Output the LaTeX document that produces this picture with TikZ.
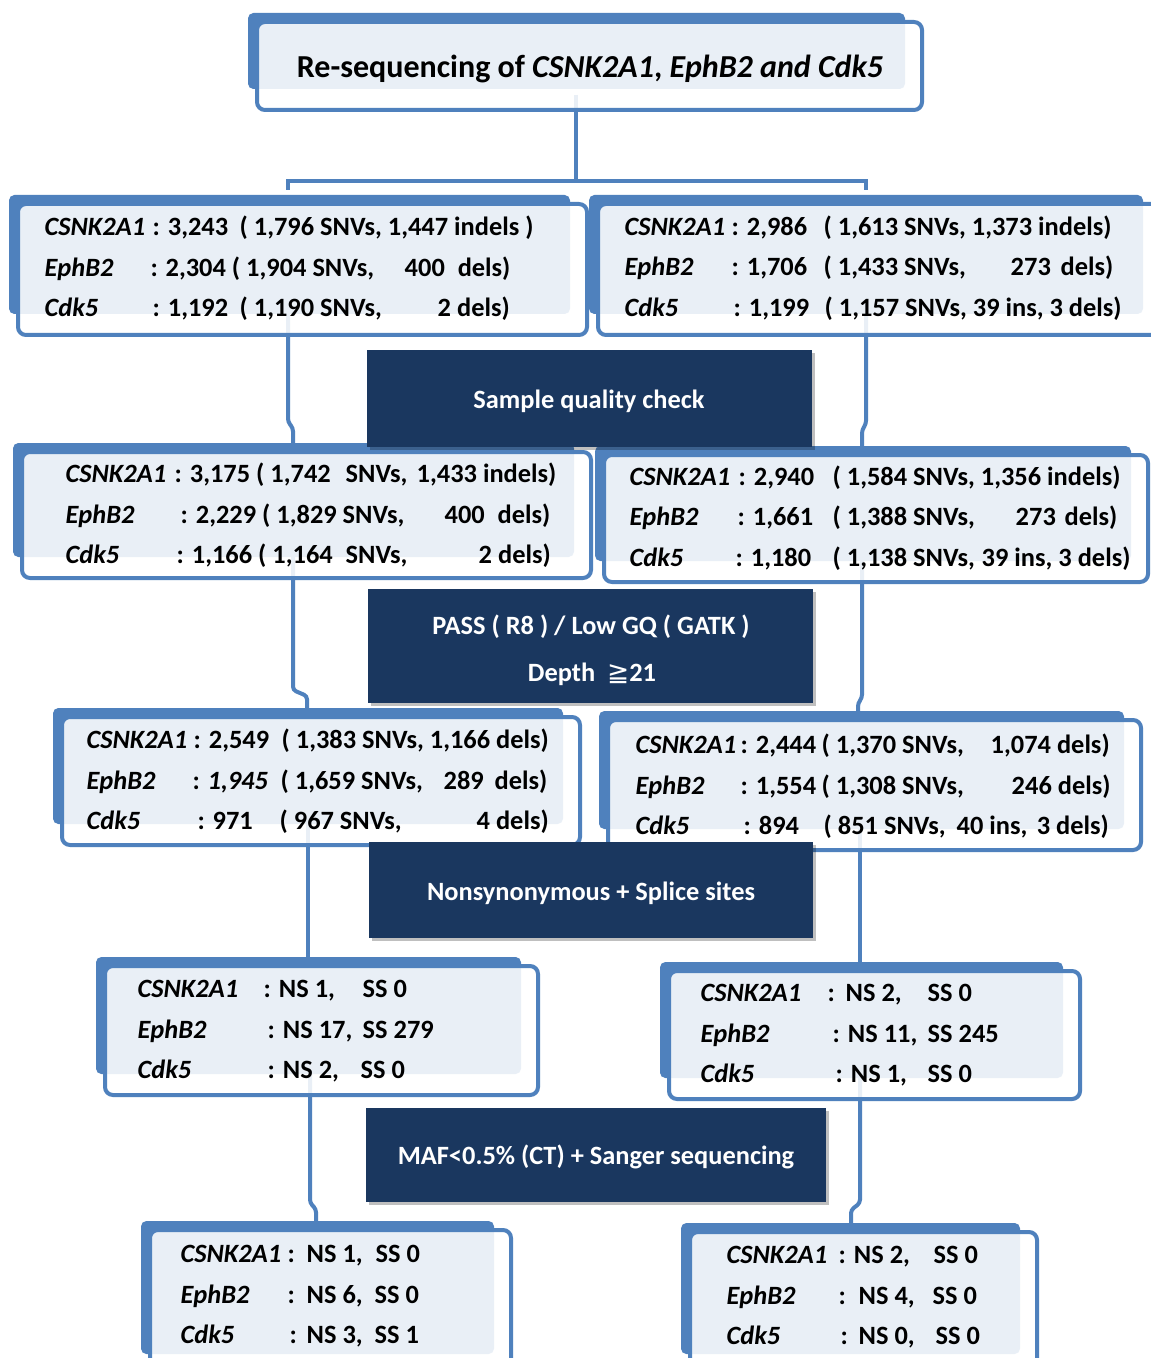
\documentclass[tikz,border=0pt]{standalone}
\usepackage{fontspec}
\setmainfont{Carlito}
\newfontfamily\symfnt{DejaVu Sans}
\usetikzlibrary{shadows}
\definecolor{blueA}{HTML}{4F81BD}
\definecolor{navy}{HTML}{1A375F}
\newdimen\pxu \pxu=0.75pt
\newcommand{\sg}[2]{\rlap{\hspace*{#1\pxu}#2}}
\newcommand{\gi}[1]{\textit{#1}}
\tikzset{
  backbox/.style={fill=blueA, rounded corners=4pt, inner sep=0pt, outer sep=0pt},
  frontbox/.style={draw=blueA, line width=3pt, fill=white, fill opacity=0.88, rounded corners=6pt, inner sep=0pt, outer sep=0pt},
  darkbox/.style={fill=navy, inner sep=0pt, outer sep=0pt,
    drop shadow={shadow xshift=2pt, shadow yshift=-2.5pt, opacity=0.25, fill=black}},
  darktxt/.style={text=white, inner sep=0pt, outer sep=0pt, text height=12.7pt, text depth=0pt,
    font=\fontsize{19.8}{23}\selectfont\bfseries},
  txt/.style={anchor=base west, inner sep=0pt, outer sep=0pt, font=\fontsize{19.8}{23}\selectfont\bfseries},
  conn/.style={draw=blueA, line width=3pt, rounded corners=2.5pt},
}
\newcommand{\databox}[5]{%
  \node[backbox, anchor=north west, minimum width={(#4-#2-8)*0.75pt}, minimum height={(#5-#3-12)*0.75pt}] (#1b) at ({#2-9},{#3-9}) {};
  \node[frontbox, anchor=north west, minimum width={(#4-#2)*0.75pt}, minimum height={(#5-#3)*0.75pt}] (#1) at (#2,#3) {};
}
\begin{document}
\begin{tikzpicture}[x=0.75pt, y=-0.75pt]
\useasboundingbox (0,0) rectangle (1151,1358);
\fill[white] (0,0) rectangle (1151,1358);

% connector coordinates
\coordinate (c0a) at (576,95);
\coordinate (c0b) at (576,181);
\coordinate (c0l) at (288,181);
\coordinate (c0r) at (866,181);
\coordinate (c0ll) at (288,190);
\coordinate (c0rr) at (866,190);
\coordinate (c1a) at (288,314);
\coordinate (c1b) at (288,422);
\coordinate (c1c) at (293,428);
\coordinate (c1d) at (293,446);
\coordinate (c1e) at (866,314);
\coordinate (c1f) at (866,424);
\coordinate (c1g) at (862,430);
\coordinate (c1h) at (862,448);
\coordinate (c2a) at (293,557);
\coordinate (c2b) at (293,690);
\coordinate (c2c) at (307,696);
\coordinate (c2d) at (307,712);
\coordinate (c2e) at (862,561);
\coordinate (c2f) at (862,698);
\coordinate (c2g) at (858,703);
\coordinate (c2h) at (858,714);
\coordinate (c3a) at (308,824);
\coordinate (c3b) at (308,960);
\coordinate (c3c) at (860,829);
\coordinate (c3d) at (860,964);
\coordinate (c4a) at (310,1074);
\coordinate (c4b) at (310,1203);
\coordinate (c4c) at (316,1209);
\coordinate (c4d) at (316,1224);
\coordinate (c4e) at (860,1078);
\coordinate (c4f) at (860,1203);
\coordinate (c4g) at (851,1210);
\coordinate (c4h) at (851,1226);

\draw[conn, rounded corners=0pt] (c0a) -- (c0b);
\draw[conn, rounded corners=0pt] (c0ll) -- (c0l) -- (c0r) -- (c0rr);
\draw[conn] (c1a) -- (c1b) -- (c1c) -- (c1d);
\draw[conn] (c1e) -- (c1f) -- (c1g) -- (c1h);
\draw[conn] (c2a) -- (c2b) -- (c2c) -- (c2d);
\draw[conn] (c2e) -- (c2f) -- (c2g) -- (c2h);
\draw[conn] (c3a) -- (c3b);
\draw[conn] (c3c) -- (c3d);
\draw[conn] (c4a) -- (c4b) -- (c4c) -- (c4d);
\draw[conn] (c4e) -- (c4f) -- (c4g) -- (c4h);

% boxes
\databox{t0}{257}{22}{922}{110}
\databox{a1}{18}{204}{587}{335}
\databox{b1}{598}{204}{1160}{335}
\databox{a2}{22}{452}{591}{578}
\databox{b2}{604}{455}{1148}{582}
\databox{a3}{62}{717}{580}{845}
\databox{b3}{608}{720}{1141}{850}
\databox{a4}{105}{966}{538}{1095}
\databox{b4}{669}{971}{1080}{1099}
\databox{a5}{150}{1230}{511}{1375}
\databox{b5}{690}{1232}{1037}{1375}

% title
\node[inner sep=0pt, font=\fontsize{24}{28}\selectfont\bfseries] (title) at (590,69)
  {Re-sequencing of \gi{CSNK2A1}, \gi{EphB2 and Cdk5}};

% dark boxes
\node[darkbox, minimum width=333.75pt, minimum height=72.75pt] (d1) at (589.5,398.5) {};
\node[darktxt] (d1t) at (589,400) {Sample quality check};
\node[darkbox, minimum width=333.75pt, minimum height=85.5pt] (d2) at (590.5,646) {};
\node[darktxt] (d2t1) at (591,626) {PASS ( R8 ) / Low GQ ( GATK )};
\node[darktxt] (d2t2) at (592,673) {Depth \ {\symfnt\mdseries ≧}21};
\node[darkbox, minimum width=333pt, minimum height=72pt] (d3) at (591,890) {};
\node[darktxt] (d3t) at (591,892) {Nonsynonymous + Splice sites};
\node[darkbox, minimum width=345pt, minimum height=70.5pt] (d4) at (596,1155) {};
\node[darktxt] (d4t) at (596,1156) {MAF<0.5\% (CT) + Sanger sequencing};

% box a1
\node[txt] (a1l1) at (0,236) {\sg{44}{\gi{CSNK2A1}}\sg{152}{: 3,243}\sg{239}{( 1,796 SNVs, 1,447 indels )}};
\node[txt] (a1l2) at (0,277) {\sg{44}{\gi{EphB2}}\sg{150}{:}\sg{165}{2,304 ( 1,904 SNVs,}\sg{404}{400}\sg{457}{dels)}};
\node[txt] (a1l3) at (0,317) {\sg{44}{\gi{Cdk5}}\sg{152}{: 1,192}\sg{239}{( 1,190 SNVs,}\sg{437}{2 dels)}};
% box b1
\node[txt] (b1l1) at (0,236) {\sg{624}{\gi{CSNK2A1}}\sg{731}{: 2,986}\sg{823}{( 1,613 SNVs, 1,373 indels)}};
\node[txt] (b1l2) at (0,276) {\sg{624}{\gi{EphB2}}\sg{731}{: 1,706}\sg{823}{( 1,433 SNVs,}\sg{1010}{273}\sg{1060}{dels)}};
\node[txt] (b1l3) at (0,317) {\sg{624}{\gi{Cdk5}}\sg{733}{: 1,199}\sg{824}{( 1,157 SNVs, 39 ins, 3 dels)}};
% box a2
\node[txt] (a2l1) at (0,482) {\sg{65}{\gi{CSNK2A1}}\sg{174}{: 3,175 ( 1,742}\sg{345}{SNVs,}\sg{416}{1,433 indels)}};
\node[txt] (a2l2) at (0,523) {\sg{65}{\gi{EphB2}}\sg{180}{: 2,229 ( 1,829 SNVs,}\sg{444}{400}\sg{497}{dels)}};
\node[txt] (a2l3) at (0,563) {\sg{65}{\gi{Cdk5}}\sg{176}{: 1,166 ( 1,164}\sg{345}{SNVs,}\sg{478}{2 dels)}};
% box b2
\node[txt] (b2l1) at (0,485) {\sg{629}{\gi{CSNK2A1}}\sg{738}{: 2,940}\sg{832}{( 1,584 SNVs, 1,356 indels)}};
\node[txt] (b2l2) at (0,525) {\sg{629}{\gi{EphB2}}\sg{737}{: 1,661}\sg{832}{( 1,388 SNVs,}\sg{1015}{273}\sg{1064}{dels)}};
\node[txt] (b2l3) at (0,566) {\sg{629}{\gi{Cdk5}}\sg{735}{: 1,180}\sg{832}{( 1,138 SNVs,}\sg{981}{39 ins, 3 dels)}};
% box a3
\node[txt] (a3l1) at (0,748) {\sg{86}{\gi{CSNK2A1}}\sg{193}{: 2,549}\sg{281}{( 1,383 SNVs, 1,166 dels)}};
\node[txt] (a3l2) at (0,789) {\sg{86}{\gi{EphB2}}\sg{192}{:}\sg{207}{\gi{1,945}}\sg{280}{( 1,659 SNVs,}\sg{443}{289}\sg{494}{dels)}};
\node[txt] (a3l3) at (0,829) {\sg{86}{\gi{Cdk5}}\sg{197}{:}\sg{212}{971}\sg{279}{( 967 SNVs,}\sg{476}{4 dels)}};
% box b3
\node[txt] (b3l1) at (0,753) {\sg{635}{\gi{CSNK2A1}}\sg{740}{: 2,444}\sg{821}{( 1,370 SNVs,}\sg{990}{1,074 dels)}};
\node[txt] (b3l2) at (0,794) {\sg{635}{\gi{EphB2}}\sg{740}{: 1,554}\sg{821}{( 1,308 SNVs,}\sg{1011}{246 dels)}};
\node[txt] (b3l3) at (0,834) {\sg{635}{\gi{Cdk5}}\sg{743}{: 894}\sg{823}{( 851 SNVs,}\sg{956}{40 ins,}\sg{1036}{3 dels)}};
% box a4
\node[txt] (a4l1) at (0,997) {\sg{137}{\gi{CSNK2A1}}\sg{263}{: NS 1,}\sg{362}{SS 0}};
\node[txt] (a4l2) at (0,1038) {\sg{137}{\gi{EphB2}}\sg{267}{: NS 17,}\sg{362}{SS 279}};
\node[txt] (a4l3) at (0,1078) {\sg{137}{\gi{Cdk5}}\sg{267}{: NS 2,}\sg{360}{SS 0}};
% box b4
\node[txt] (b4l1) at (0,1001) {\sg{700}{\gi{CSNK2A1}}\sg{827}{:}\sg{845}{NS 2,}\sg{927}{SS 0}};
\node[txt] (b4l2) at (0,1042) {\sg{700}{\gi{EphB2}}\sg{832}{: NS 11,}\sg{927}{SS 245}};
\node[txt] (b4l3) at (0,1082) {\sg{700}{\gi{Cdk5}}\sg{835}{: NS 1,}\sg{927}{SS 0}};
% box a5
\node[txt] (a5l1) at (0,1262) {\sg{180}{\gi{CSNK2A1}}\sg{287}{:}\sg{306}{NS 1,}\sg{375}{SS 0}};
\node[txt] (a5l2) at (0,1303) {\sg{180}{\gi{EphB2}}\sg{287}{:}\sg{306}{NS 6,}\sg{374}{SS 0}};
\node[txt] (a5l3) at (0,1343) {\sg{180}{\gi{Cdk5}}\sg{289}{:}\sg{306}{NS 3,}\sg{374}{SS 1}};
% box b5
\node[txt] (b5l1) at (0,1263) {\sg{726}{\gi{CSNK2A1}}\sg{838}{: NS 2,}\sg{933}{SS 0}};
\node[txt] (b5l2) at (0,1304) {\sg{726}{\gi{EphB2}}\sg{838}{:}\sg{858}{NS 4,}\sg{932}{SS 0}};
\node[txt] (b5l3) at (0,1344) {\sg{726}{\gi{Cdk5}}\sg{840}{:}\sg{858}{NS 0,}\sg{935}{SS 0}};
\end{tikzpicture}
\end{document}
